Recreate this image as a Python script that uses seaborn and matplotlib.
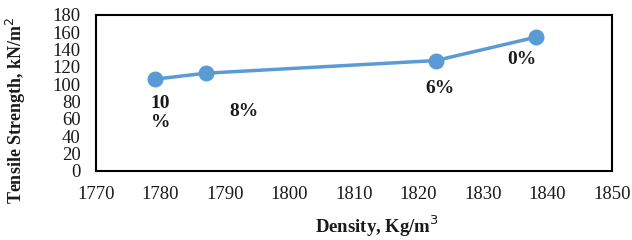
import matplotlib
matplotlib.use("Agg")
import matplotlib.pyplot as plt
import seaborn as sns
import pandas as pd

# data
density = [1779.1, 1787.0, 1822.7, 1838.2]
strength = [105.8, 112.7, 127.3, 154.2]
labels = ["10\n%", "8%", "6%", "0%"]
label_x = [1780.0, 1793.0, 1823.3, 1836.0]
label_y = [67, 69, 94.6, 129]

df = pd.DataFrame({"density": density, "strength": strength})

sns.set_style("white")
plt.rcParams['font.family'] = ['Liberation Serif', 'DejaVu Serif']

fig, ax = plt.subplots(figsize=(6.32, 2.4), dpi=100)
fig.subplots_adjust(left=0.152, right=0.968, top=0.938, bottom=0.288)

sns.lineplot(data=df, x="density", y="strength", ax=ax, color="#5B9BD5",
             linewidth=2.5, marker="o", markersize=11.5, markeredgewidth=0)

for lx, ly, t in zip(label_x, label_y, labels):
    ax.text(lx, ly, t, ha="center", va="center", fontsize=14,
            fontweight="bold", linespacing=1.15, color="#1a1a1a")

ax.set_xlim(1770, 1850)
ax.set_ylim(0, 180)
ax.set_xticks(range(1770, 1851, 10))
ax.set_yticks(range(0, 181, 20))
ax.tick_params(length=0, labelsize=13.5, pad=11, labelcolor="#1a1a1a")
for s in ax.spines.values():
    s.set_color("black")
    s.set_linewidth(1.5)

ax.set_xlabel("Density, Kg/m$^3$", fontsize=13.5, fontweight="bold", color="#1a1a1a")
ax.set_ylabel("Tensile Strength, kN/m$^2$", fontsize=13, fontweight="bold", color="#1a1a1a")
ax.xaxis.set_label_coords(0.545, -0.275)
ax.yaxis.set_label_coords(-0.132, 0.39)

plt.savefig("out.png", dpi=100)
